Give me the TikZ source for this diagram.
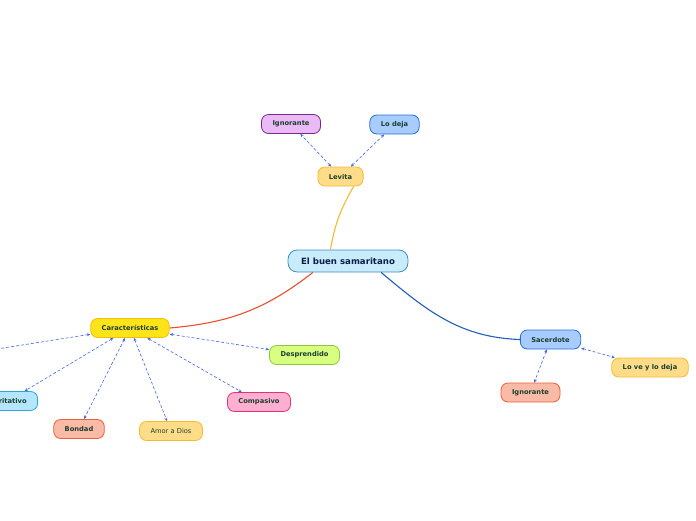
\documentclass[tikz,border=0pt]{standalone}
\usepackage{fontspec}
\setmainfont{DejaVu Sans}
\usetikzlibrary{arrows.meta}
\definecolor{txtgreen}{RGB}{28,62,48}
\definecolor{txtnavy}{RGB}{12,30,70}
\definecolor{skyfill}{RGB}{200,236,252}
\definecolor{skydraw}{RGB}{60,140,190}
\definecolor{goldfill}{RGB}{255,221,136}
\definecolor{golddraw}{RGB}{245,185,50}
\definecolor{lilacfill}{RGB}{234,186,246}
\definecolor{lilacdraw}{RGB}{120,40,140}
\definecolor{bluefill}{RGB}{168,204,255}
\definecolor{bluedraw}{RGB}{40,110,215}
\definecolor{yellowfill}{RGB}{255,228,26}
\definecolor{yellowdraw}{RGB}{240,192,0}
\definecolor{limefill}{RGB}{216,255,128}
\definecolor{limedraw}{RGB}{140,198,62}
\definecolor{pinkfill}{RGB}{255,176,208}
\definecolor{pinkdraw}{RGB}{232,48,122}
\definecolor{salmonfill}{RGB}{249,187,165}
\definecolor{salmondraw}{RGB}{232,96,58}
\definecolor{cyanfill}{RGB}{181,229,250}
\definecolor{cyandraw}{RGB}{42,168,224}
\definecolor{linkblue}{RGB}{70,100,230}
\tikzset{
  topic/.style 2 args={draw=#2, fill=#1, rounded corners=7pt, line width=0.8pt, minimum height=19pt, inner xsep=11pt, inner ysep=0pt, font=\fontsize{6.7}{7}\selectfont\bfseries, text=txtgreen},
  central/.style={topic={skyfill}{skydraw}, rounded corners=9pt, minimum height=22pt, inner xsep=13pt, font=\fontsize{8.6}{9}\selectfont\bfseries, text=txtnavy},
  link/.style={{Stealth[length=3.5pt,width=3pt]}-{Stealth[length=3.5pt,width=3pt]}, dash pattern=on 3pt off 2pt, linkblue, line width=0.6pt},
  branch/.style={line width=1.1pt}
}

\begin{document}
\begin{tikzpicture}[x=1pt,y=-1pt]
  \useasboundingbox (0,0) rectangle (696,520);
  \node[central] (samaritano) at (348,261) {El buen samaritano};
  \node[topic={goldfill}{golddraw}] (levita) at (340.5,176.5) {Levita};
  \node[topic={lilacfill}{lilacdraw}] (ignorante1) at (291,124) {Ignorante};
  \node[topic={bluefill}{bluedraw}] (lodeja) at (394.5,124.5) {Lo deja};
  \node[topic={yellowfill}{yellowdraw}] (caracteristicas) at (130,328) {Características};
  \node[topic={limefill}{limedraw}] (desprendido) at (304.5,355) {Desprendido};
  \node[topic={pinkfill}{pinkdraw}] (compasivo) at (259,402) {Compasivo};
  \node[topic={goldfill}{golddraw}, font=\fontsize{6.7}{7}\selectfont] (amor) at (171,431) {Amor a Dios};
  \node[topic={salmonfill}{salmondraw}] (bondad) at (79,429) {Bondad};
  \node[topic={cyanfill}{cyandraw}] (caritativo) at (8,401) {Caritativo};
  \node[topic={bluefill}{bluedraw}] (sacerdote) at (550.5,339.5) {Sacerdote};
  \node[topic={goldfill}{golddraw}] (loveylodeja) at (650,367.5) {Lo ve y lo deja};
  \node[topic={salmonfill}{salmondraw}] (ignorante2) at (530.5,392.5) {Ignorante};
  \coordinate (fueraizq) at (-60,358);

  \draw[branch, golddraw] (samaritano.147) to[out=80,in=240] (levita.323);
  \draw[branch, salmondraw!80!red] (samaritano.198) to[out=218,in=5] (caracteristicas.east);
  \draw[branch, bluedraw!85!black] (samaritano.341) to[out=-40,in=178] (sacerdote.west);

  \foreach \t in {ignorante1,lodeja}{\draw[link] (levita) -- (\t);}
  \foreach \t in {desprendido,compasivo,amor,bondad,caritativo,fueraizq}{\draw[link] (caracteristicas) -- (\t);}
  \foreach \t in {loveylodeja,ignorante2}{\draw[link] (sacerdote) -- (\t);}
\end{tikzpicture}
\end{document}
